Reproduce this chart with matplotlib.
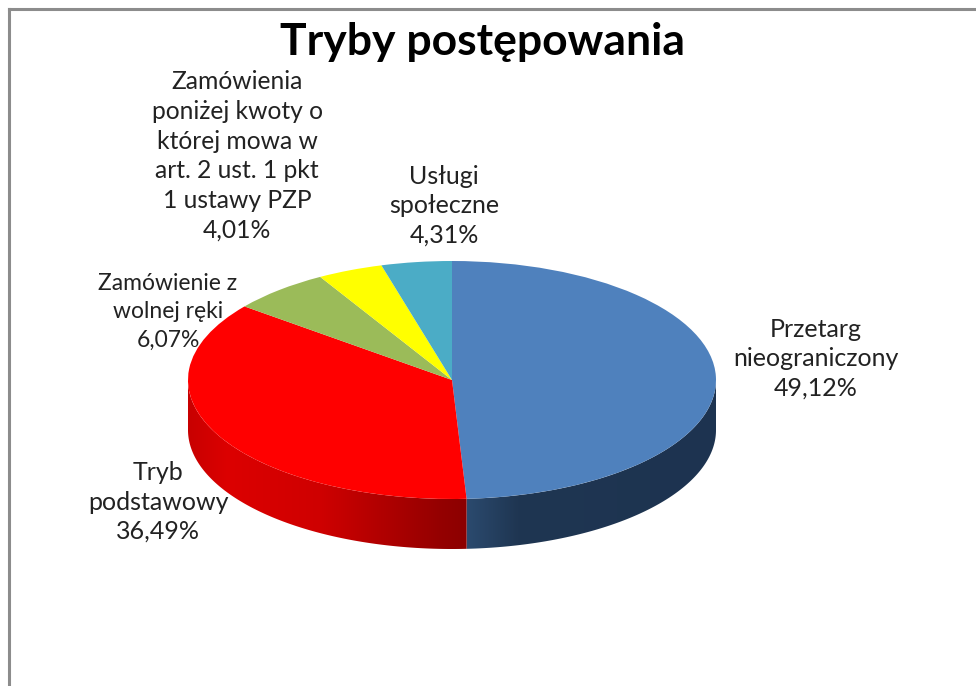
import numpy as np
import matplotlib
matplotlib.use("Agg")
import matplotlib.pyplot as plt
from matplotlib.colors import to_rgb
from matplotlib.patches import Polygon
from matplotlib.lines import Line2D

title = "Tryby postępowania"
categories = ["Przetarg\nnieograniczony", "Tryb\npodstawowy", "Zamówienie z\nwolnej ręki",
              "Zamówienia\nponiżej kwoty o\nktórej mowa w\nart. 2 ust. 1 pkt\n1 ustawy PZP", "Usługi\nspołeczne"]
values = [49.12, 36.49, 6.07, 4.01, 4.31]
value_labels = ["49,12%", "36,49%", "6,07%", "4,01%", "4,31%"]
colors = ["#4F81BD", "#FF0000", "#9BBB59", "#FFFF00", "#4BACC6"]
label_centers = [(816, 359), (158, 502), (168, 312), (237, 156), (444, 206)]
label_sizes = [18, 18, 16.5, 17.7, 18]

W, H = 976, 686
cx, cy, rx, ry, depth = 452, 380, 264, 119, 50
plt.rcParams['font.family'] = ['Lato', 'DejaVu Sans']
fig = plt.figure(figsize=(W/100, H/100), dpi=100, facecolor='white')
ax = fig.add_axes([0, 0, 1, 1])

ax.pie(values, colors=colors, startangle=90, counterclock=False, radius=1, center=(0, 0),
       wedgeprops=dict(linewidth=0), normalize=True, frame=False)
ax.axis('off')
for w in ax.patches:
    w.set_zorder(3)

d = depth/ry
side_stops = {
    "#4F81BD": ([0.0, 0.06, 0.25, 1.0], ["#30527A", "#2B4A6E", "#1F3652", "#1D3350"]),
    "#FF0000": ([-1.0, -0.85, -0.5, -0.05, 0.06], ["#C80000", "#DC0000", "#CF0000", "#950000", "#8C0000"]),
}
bounds = np.cumsum([0] + values) / np.sum(values) * 2 * np.pi
grid = np.linspace(-1, 1, 1200)
for i, col in enumerate(colors):
    if col not in side_stops:
        continue
    a0, a1 = max(bounds[i], np.pi/2), min(bounds[i+1], 3*np.pi/2)
    th = np.linspace(a0, a1, 300)
    xs, ys = np.sin(th), np.cos(th)
    stops, cols = side_stops[col]
    rgb = np.array([to_rgb(c) for c in cols])
    img = np.stack([np.interp(grid, stops, rgb[:, k]) for k in range(3)], axis=-1)[None, :, :]
    im = ax.imshow(img, extent=(-1, 1, -1-d, 1), aspect='auto', zorder=2, interpolation='bilinear')
    poly = Polygon(np.r_[np.c_[xs, ys], np.c_[xs, ys - d][::-1]], closed=True, transform=ax.transData,
                   facecolor='none', edgecolor='none')
    ax.add_patch(poly)
    im.set_clip_path(poly)

ax.set_aspect('auto')
ax.set_xlim(-cx/rx, (W-cx)/rx)
ax.set_ylim(-(H-cy)/ry, cy/ry)

fig.text(483/W, 1-42/H, title, ha='center', va='center', fontsize=32, fontweight='bold', color='black')
for name, val, (x, y), size in zip(categories, value_labels, label_centers, label_sizes):
    fig.text(x/W, 1-y/H, name + "\n" + val, ha='center', va='center', fontsize=size, color='#222222',
             linespacing=1.33 * 18 / size, zorder=5)

fig.add_artist(Line2D([9/W, 9/W], [0, 1-9/H], color='#8c8c8c', lw=2.2))
fig.add_artist(Line2D([9/W, 1], [1-9/H, 1-9/H], color='#8c8c8c', lw=2.2))
fig.savefig("out.png", dpi=100)
